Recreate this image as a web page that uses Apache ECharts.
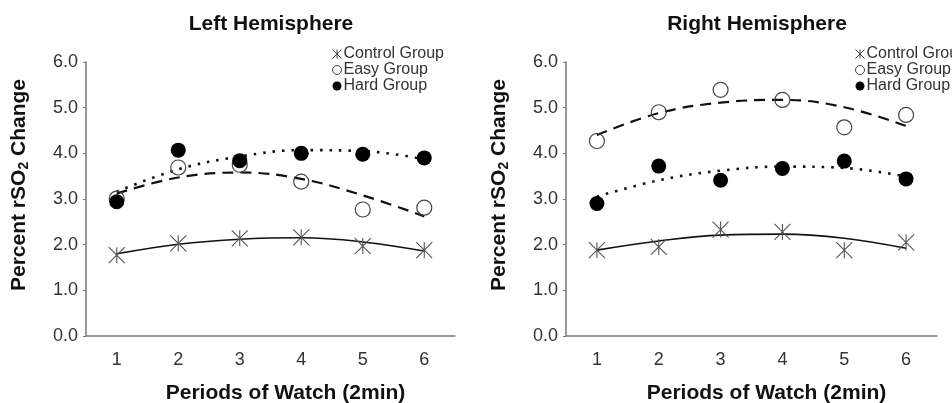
<!DOCTYPE html>
<html>
<head>
<meta charset="utf-8">
<script src="https://cdn.jsdelivr.net/npm/echarts@6/dist/echarts.min.js"></script>
<style>html,body{margin:0;padding:0;background:#fff}#c{width:952px;height:403px}</style>
</head>
<body>
<div id="c"></div>
<script>
var periods = ['1', '2', '3', '4', '5', '6'];
var yTicks = [0, 1, 2, 3, 4, 5, 6];
var groupNames = ['Control Group', 'Easy Group', 'Hard Group'];
var panelTitles = ['Left Hemisphere', 'Right Hemisphere'];

var leftControl = [1.77, 2.03, 2.14, 2.16, 1.97, 1.88];
var leftEasy = [3.01, 3.69, 3.75, 3.38, 2.77, 2.81];
var leftHard = [2.94, 4.07, 3.84, 4.00, 3.98, 3.90];
var leftControlTrend = [1.80, 2.01, 2.12, 2.15, 2.06, 1.86];
var leftEasyTrend = [3.12, 3.47, 3.58, 3.44, 3.08, 2.62];
var leftHardTrend = [3.16, 3.65, 3.93, 4.07, 4.05, 3.87];

var rightControl = [1.88, 1.95, 2.33, 2.28, 1.88, 2.05];
var rightEasy = [4.27, 4.90, 5.39, 5.17, 4.57, 4.84];
var rightHard = [2.90, 3.72, 3.41, 3.67, 3.83, 3.44];
var rightControlTrend = [1.88, 2.08, 2.21, 2.23, 2.14, 1.92];
var rightEasyTrend = [4.40, 4.88, 5.11, 5.17, 5.01, 4.60];
var rightHardTrend = [3.05, 3.41, 3.62, 3.71, 3.68, 3.49];

var FONT = '"Liberation Sans", Arial, sans-serif';
var starPath = 'path://M0,0L10,10M10,0L0,10M5,0L5,10';

var panels = [
  {ctrl: leftControl, easy: leftEasy, hard: leftHard, ct: leftControlTrend, et: leftEasyTrend, ht: leftHardTrend,
   gridLeft: 86, gridWidth: 369, titleX: 266, legendX: 327},
  {ctrl: rightControl, easy: rightEasy, hard: rightHard, ct: rightControlTrend, et: rightEasyTrend, ht: rightHardTrend,
   gridLeft: 566, gridWidth: 371, titleX: 752, legendX: 850}
];

var option = {
  backgroundColor: '#fff',
  animation: false,
  textStyle: {fontFamily: FONT},
  title: [], legend: [], grid: [], xAxis: [], yAxis: [], series: []
};

panels.forEach(function (p, i) {
  var suffix = i ? ' ' : '';
  option.title.push({
    text: panelTitles[i], left: p.titleX, top: 9, textAlign: 'center',
    textStyle: {fontFamily: FONT, fontSize: 21, fontWeight: 'bold', color: '#111'}
  });
  option.grid.push({left: p.gridLeft, top: 62, width: p.gridWidth, height: 274,
    containLabel: false, outerBoundsMode: 'none'});
  option.xAxis.push({
    type: 'category', gridIndex: i, data: periods, boundaryGap: true,
    axisLine: {show: true, lineStyle: {color: '#777', width: 1.5}},
    axisTick: {show: false},
    axisLabel: {fontFamily: FONT, fontSize: 18, color: '#333', margin: 15},
    splitLine: {show: false},
    name: 'Periods of Watch (2min)', nameLocation: 'middle', nameGap: 47,
    nameTextStyle: {fontFamily: FONT, fontSize: 21, fontWeight: 'bold', color: '#111', padding: [0, 0, 0, 30]}
  });
  option.yAxis.push({
    type: 'value', gridIndex: i, min: yTicks[0], max: yTicks[yTicks.length - 1], interval: 1,
    axisLine: {show: true, lineStyle: {color: '#777', width: 1.5}},
    axisTick: {show: true, length: 3, lineStyle: {color: '#777'}},
    axisLabel: {fontFamily: FONT, fontSize: 18, color: '#333', margin: 8,
      formatter: function (v) { return v.toFixed(1); }},
    splitLine: {show: false},
    name: '{n|Percent rSO}{s|2}{n| Change}', nameLocation: 'middle', nameGap: 55,
    nameTextStyle: {
      padding: [0, 0, 0, 28],
      rich: {
        n: {fontFamily: FONT, fontSize: 21, fontWeight: 'bold', color: '#111', lineHeight: 24, verticalAlign: 'middle'},
        s: {fontFamily: FONT, fontSize: 14, fontWeight: 'bold', color: '#111', lineHeight: 24, verticalAlign: 'bottom', padding: [8, 0, 0, 0]}
      }
    }
  });
  option.legend.push({
    orient: 'vertical', left: p.legendX, top: 41,
    itemWidth: 9, itemHeight: 9, itemGap: 0,
    textStyle: {fontFamily: FONT, fontSize: 16, color: '#333', lineHeight: 15, padding: [0, 0, 0, -3]},
    data: [
      {name: groupNames[0] + suffix, icon: starPath, itemStyle: {color: 'transparent', borderColor: '#444', borderWidth: 1}},
      {name: groupNames[1] + suffix, icon: 'circle', itemStyle: {color: 'transparent', borderColor: '#444', borderWidth: 1}},
      {name: groupNames[2] + suffix, icon: 'circle', itemStyle: {color: '#000', borderWidth: 0}}
    ]
  });
  // trend lines
  option.series.push({
    type: 'line', xAxisIndex: i, yAxisIndex: i, data: p.ct, smooth: 0.4, symbol: 'none', silent: true,
    lineStyle: {color: '#111', width: 1.6, type: 'solid'}, z: 2
  });
  option.series.push({
    type: 'line', xAxisIndex: i, yAxisIndex: i, data: p.et, smooth: 0.4, symbol: 'none', silent: true,
    lineStyle: {color: '#111', width: 2.2, type: [11, 7]}, z: 2
  });
  option.series.push({
    type: 'line', xAxisIndex: i, yAxisIndex: i, data: p.ht, smooth: 0.4, symbol: 'none', silent: true,
    lineStyle: {color: '#111', width: 2.6, type: [2.5, 7]}, z: 2
  });
  // markers
  option.series.push({
    name: groupNames[0] + suffix, type: 'scatter', xAxisIndex: i, yAxisIndex: i, data: p.ctrl,
    symbol: starPath, symbolSize: 16,
    itemStyle: {color: 'transparent', borderColor: '#555', borderWidth: 1.1, opacity: 1}, z: 3
  });
  option.series.push({
    name: groupNames[1] + suffix, type: 'scatter', xAxisIndex: i, yAxisIndex: i, data: p.easy,
    symbol: 'circle', symbolSize: 15,
    itemStyle: {color: 'transparent', borderColor: '#444', borderWidth: 1.2, opacity: 1}, z: 3
  });
  option.series.push({
    name: groupNames[2] + suffix, type: 'scatter', xAxisIndex: i, yAxisIndex: i, data: p.hard,
    symbol: 'circle', symbolSize: 15,
    itemStyle: {color: '#000', opacity: 1}, z: 4
  });
});

var chart = echarts.init(document.getElementById('c'), null, {renderer: 'canvas'});
chart.setOption(option);
</script>
</body>
</html>
